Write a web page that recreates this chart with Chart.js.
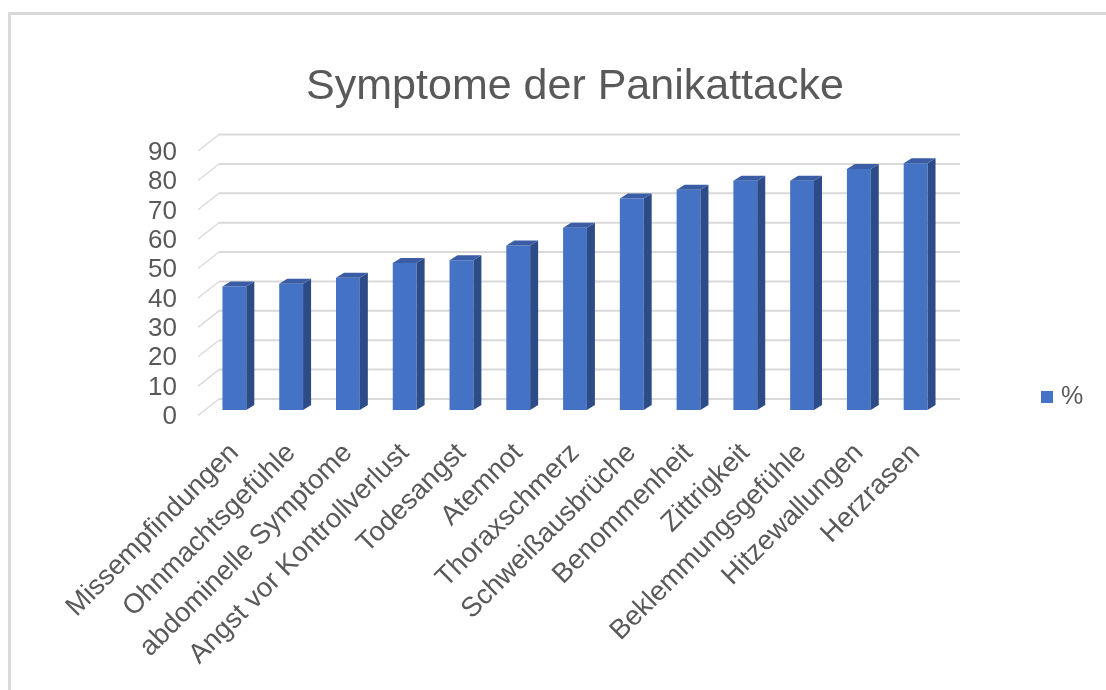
<!DOCTYPE html>
<html lang="de">
<head>
  <meta charset="UTF-8" />
  <title>Symptome der Panikattacke</title>
  <script src="https://cdn.jsdelivr.net/npm/chart.js"></script>
  <style>
    html, body {
      margin: 0;
      padding: 0;
      background: #fff;
      overflow: hidden;
    }

    .wrap {
      position: relative;
      width: 1106px;
      height: 690px;
      overflow: hidden;
    }

    /* light grey chart border, cut off at right and bottom like the screenshot */
    .frame {
      position: absolute;
      left: 8px;
      top: 12px;
      right: -10px;
      bottom: -10px;
      border: 3px solid #d9d9d9;
    }

    canvas {
      position: absolute;
      left: 0;
      top: 0;
    }
  </style>
</head>
<body>
  <div class="wrap">
    <div class="frame"></div>
    <canvas id="symptomChart" width="1106" height="690"></canvas>
  </div>

  <script>
    // data
    const categories = [
      "Missempfindungen",
      "Ohnmachtsgefühle",
      "abdominelle Symptome",
      "Angst vor Kontrollverlust",
      "Todesangst",
      "Atemnot",
      "Thoraxschmerz",
      "Schweißausbrüche",
      "Benommenheit",
      "Zittrigkeit",
      "Beklemmungsgefühle",
      "Hitzewallungen",
      "Herzrasen"
    ];
    const percentValues = [42, 43, 45, 50, 51, 56, 62, 72, 75, 78, 78, 82, 84];
    const seriesName = "%";
    const yMin = 0;
    const yMax = 90;
    const yStep = 10;

    const textColor = "#595959";
    const frontColor = "#4472c4";
    const sideColor = "#2d4b86";
    const topColor = "#3a5da5";
    const gridColor = "#d9d9d9";
    const fontFamily = "'Liberation Sans', Arial, sans-serif";

    // back wall gridlines + the little slanted lines on the left side wall
    const backWall = {
      id: "backWall",
      beforeDatasetsDraw(chart) {
        const { ctx, chartArea, scales } = chart;
        const y = scales.y;
        ctx.save();
        ctx.strokeStyle = gridColor;
        y.ticks.forEach(t => {
          const py = y.getPixelForValue(t.value);
          ctx.lineWidth = 1.3;
          ctx.beginPath();
          ctx.moveTo(chartArea.left - 8, py + 5.5);
          ctx.lineTo(chartArea.left + 13, py - 11);
          ctx.stroke();
          ctx.lineWidth = 2;
          ctx.beginPath();
          ctx.moveTo(chartArea.left + 13, py - 11);
          ctx.lineTo(chartArea.right + 16, py - 11);
          ctx.stroke();
        });
        ctx.restore();
      }
    };

    // side and top faces so the columns look 3D
    const bar3d = {
      id: "bar3d",
      afterDatasetsDraw(chart) {
        const ctx = chart.ctx;
        const dx = 8, dy = 5;
        ctx.save();
        chart.getDatasetMeta(0).data.forEach(bar => {
          const { x, y, base, width } = bar.getProps(["x", "y", "base", "width"], true);
          const l = x - width / 2;
          const r = x + width / 2;
          ctx.fillStyle = sideColor;
          ctx.beginPath();
          ctx.moveTo(r, y);
          ctx.lineTo(r + dx, y - dy);
          ctx.lineTo(r + dx, base - dy);
          ctx.lineTo(r, base);
          ctx.closePath();
          ctx.fill();
          ctx.fillStyle = topColor;
          ctx.beginPath();
          ctx.moveTo(l, y);
          ctx.lineTo(l + dx, y - dy);
          ctx.lineTo(r + dx, y - dy);
          ctx.lineTo(r, y);
          ctx.closePath();
          ctx.fill();
        });
        ctx.restore();
      }
    };

    // legend on the right, level with the lower part of the plot
    const sideLegend = {
      id: "sideLegend",
      afterDraw(chart) {
        const { ctx, chartArea } = chart;
        const bx = chartArea.right + 97;
        const cy = chartArea.bottom - 13;
        ctx.save();
        ctx.fillStyle = frontColor;
        ctx.fillRect(bx, cy - 6, 12, 12);
        ctx.fillStyle = textColor;
        ctx.font = "25px " + fontFamily;
        ctx.textBaseline = "middle";
        ctx.textAlign = "left";
        ctx.fillText(chart.data.datasets[0].label, bx + 20, cy);
        ctx.restore();
      }
    };

    new Chart(document.getElementById("symptomChart"), {
      type: "bar",
      data: {
        labels: categories,
        datasets: [{
          label: seriesName,
          data: percentValues,
          backgroundColor: frontColor,
          borderWidth: 0,
          barPercentage: 0.42,
          categoryPercentage: 1
        }]
      },
      options: {
        responsive: false,
        animation: false,
        layout: {
          padding: { left: 0, right: 162, top: 0, bottom: 0 }
        },
        plugins: {
          legend: { display: false },
          tooltip: { enabled: false },
          title: {
            display: true,
            text: "Symptome der Panikattacke",
            color: textColor,
            fullSize: false,
            font: { family: fontFamily, size: 43, weight: "normal", lineHeight: 1.2 },
            padding: { top: 61, bottom: 33 }
          }
        },
        scales: {
          x: {
            grid: { display: false, drawTicks: false },
            border: { display: false },
            ticks: {
              autoSkip: false,
              minRotation: 45,
              maxRotation: 45,
              padding: 27,
              color: textColor,
              font: { family: fontFamily, size: 27.5 }
            },
            afterFit(scale) {
              scale.height = 280;
            }
          },
          y: {
            min: yMin,
            max: yMax,
            grid: { display: false, drawTicks: false },
            border: { display: false },
            ticks: {
              stepSize: yStep,
              autoSkip: false,
              maxTicksLimit: 20,
              padding: 29,
              labelOffset: 7,
              color: textColor,
              font: { family: fontFamily, size: 26, lineHeight: 0.9 }
            },
            afterFit(scale) {
              scale.width = 206;
            }
          }
        }
      },
      plugins: [backWall, bar3d, sideLegend]
    });
  </script>
</body>
</html>
